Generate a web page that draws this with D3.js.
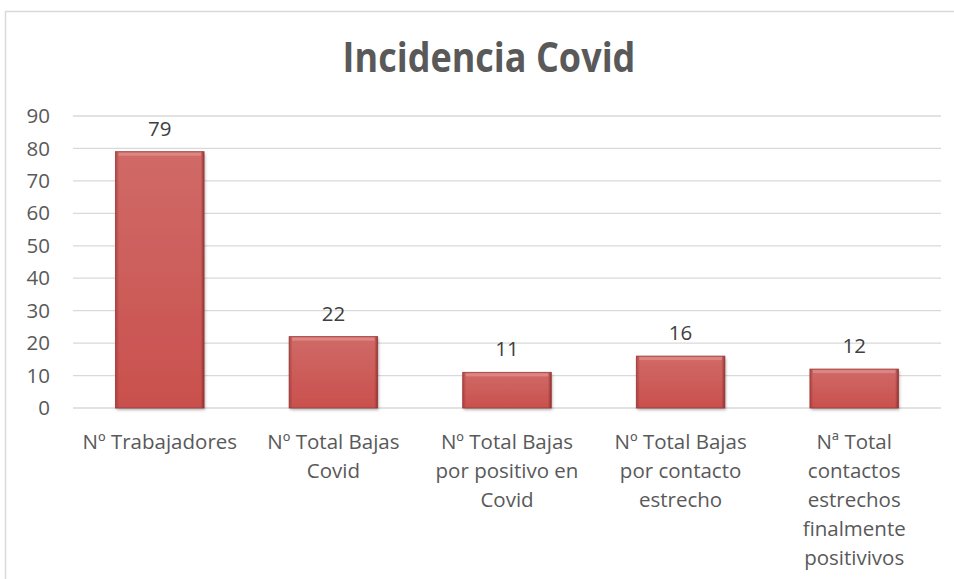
<!DOCTYPE html>
<html><head><meta charset="utf-8">
<script src="https://cdn.jsdelivr.net/npm/d3@7"></script>
<style>html,body{margin:0;padding:0;background:#fff;}</style>
</head><body>
<svg id="chart" width="954" height="579"></svg>
<script>
const categories = [
  ["Nº Trabajadores"],
  ["Nº Total Bajas", "Covid"],
  ["Nº Total Bajas", "por positivo en", "Covid"],
  ["Nº Total Bajas", "por contacto", "estrecho"],
  ["Nª Total", "contactos", "estrechos", "finalmente", "positivivos"]
];
const values = [79, 22, 11, 16, 12];
const yTicks = [0, 10, 20, 30, 40, 50, 60, 70, 80, 90];
const title = "Incidencia Covid";

const svg = d3.select("#chart");
const font = "'Open Sans', sans-serif";
const fs = 20.5;
const W = 954, H = 579;
const m = {left: 73, right: 13, top: 116, bottom: 171};

// frame
svg.append("rect").attr("x", 5.5).attr("y", 11.5).attr("width", 960).attr("height", 600)
  .attr("fill", "#fff").attr("stroke", "#d9d9d9").attr("stroke-width", 1.5);

const defs = svg.append("defs");
const g1 = defs.append("linearGradient").attr("id", "barGrad").attr("x1", 0).attr("y1", 0).attr("x2", 0).attr("y2", 1);
g1.append("stop").attr("offset", "0%").attr("stop-color", "#d06a67");
g1.append("stop").attr("offset", "100%").attr("stop-color", "#c9504d");
const g2 = defs.append("linearGradient").attr("id", "sideGrad").attr("x1", 0).attr("y1", 0).attr("x2", 1).attr("y2", 0);
g2.append("stop").attr("offset", "0%").attr("stop-color", "#8e2f2d").attr("stop-opacity", 0.55);
g2.append("stop").attr("offset", "4%").attr("stop-color", "#8e2f2d").attr("stop-opacity", 0);
g2.append("stop").attr("offset", "96%").attr("stop-color", "#8e2f2d").attr("stop-opacity", 0);
g2.append("stop").attr("offset", "100%").attr("stop-color", "#6e1f1d").attr("stop-opacity", 0.7);
const f = defs.append("filter").attr("id", "shadow").attr("x", "-10%").attr("y", "-10%").attr("width", "130%").attr("height", "130%");
f.append("feDropShadow").attr("dx", 1).attr("dy", 2).attr("stdDeviation", 1.5).attr("flood-color", "#000").attr("flood-opacity", 0.3);

const x = d3.scaleBand().domain(d3.range(categories.length)).range([m.left, W - m.right]).paddingInner(0.49).paddingOuter(0.245);
const y = d3.scaleLinear().domain([0, 90]).range([H - m.bottom, m.top]);

// title
svg.append("text").attr("x", 489).attr("y", 72).attr("text-anchor", "middle")
  .attr("transform", "translate(0,72) scale(1,1.12) translate(0,-72)")
  .attr("font-family", font).attr("font-weight", "bold").attr("font-size", 36)
  .attr("fill", "#595959").text(title);

// grid
svg.append("g").selectAll("line").data(yTicks).join("line")
  .attr("x1", m.left).attr("x2", W - m.right)
  .attr("y1", d => y(d)).attr("y2", d => y(d))
  .attr("stroke", "#d9d9d9").attr("stroke-width", 1.3);

// y axis labels
const yAxis = d3.axisLeft(y).tickValues(yTicks).tickSize(0).tickPadding(0);
const ya = svg.append("g").attr("transform", `translate(50,0)`).call(yAxis);
ya.select(".domain").remove();
ya.selectAll("text").attr("font-family", font).attr("font-size", fs).attr("fill", "#595959");

// bars
const bars = svg.append("g").selectAll("g").data(values).join("g");
bars.append("rect")
  .attr("x", (d, i) => x(i)).attr("y", d => y(d))
  .attr("width", x.bandwidth()).attr("height", d => y(0) - y(d))
  .attr("fill", "url(#barGrad)").attr("filter", "url(#shadow)");
bars.append("rect")
  .attr("x", (d, i) => x(i)).attr("y", d => y(d))
  .attr("width", x.bandwidth()).attr("height", d => y(0) - y(d))
  .attr("fill", "url(#sideGrad)");
bars.append("rect")
  .attr("x", (d, i) => x(i) + 3).attr("y", d => y(d) + 1)
  .attr("width", x.bandwidth() - 6).attr("height", 3)
  .attr("fill", "#e89a97").attr("opacity", 0.6);
bars.append("rect")
  .attr("x", (d, i) => x(i)).attr("y", d => y(d))
  .attr("width", x.bandwidth()).attr("height", d => y(0) - y(d))
  .attr("fill", "none").attr("stroke", "#9b3b39").attr("stroke-width", 0.8);

// value labels
svg.append("g").selectAll("text").data(values).join("text")
  .attr("x", (d, i) => x(i) + x.bandwidth() / 2).attr("y", d => y(d) - 16)
  .attr("text-anchor", "middle").attr("font-family", font).attr("font-size", fs)
  .attr("fill", "#404040").text(d => d);

// category labels
const xl = svg.append("g").selectAll("text").data(categories).join("text")
  .attr("x", (d, i) => x(i) + x.bandwidth() / 2).attr("y", 449)
  .attr("text-anchor", "middle").attr("font-family", font).attr("font-size", fs)
  .attr("fill", "#595959");
xl.selectAll("tspan").data(d => d).join("tspan")
  .attr("x", function() { return d3.select(this.parentNode).attr("x"); })
  .attr("dy", (d, j) => j === 0 ? 0 : 29).text(d => d);
</script>
</body></html>
